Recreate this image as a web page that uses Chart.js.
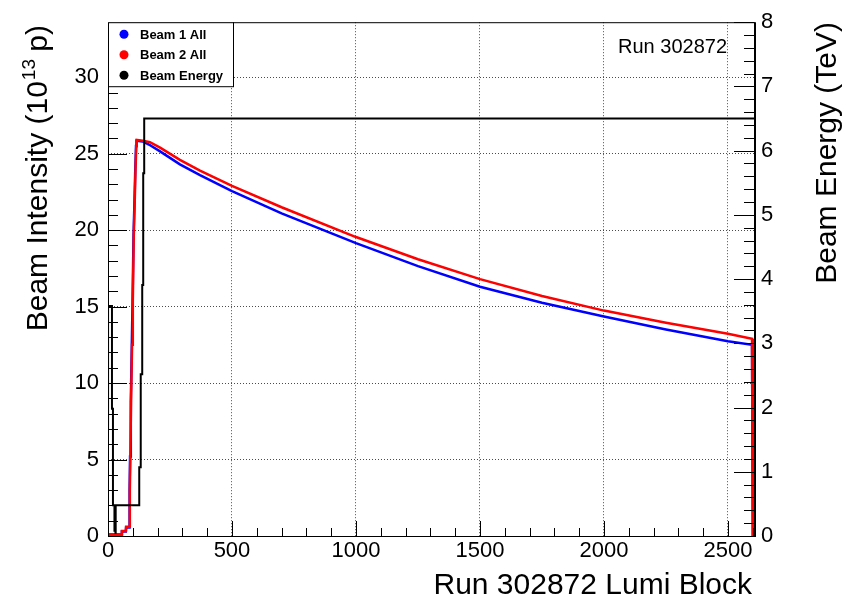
<!DOCTYPE html>
<html>
<head>
<meta charset="utf-8">
<script src="https://cdn.jsdelivr.net/npm/chart.js"></script>
<style>
  body { margin: 0; background: #fff; }
  canvas { display: block; }
</style>
</head>
<body>
<canvas id="beamChart" width="852" height="599"></canvas>
<script>
// lumi block / value pairs for each beam (10^13 protons)
const beam1LB  = [0, 55, 56, 72, 73, 85, 87, 89, 92, 96, 99, 103, 107, 110, 113, 115, 140, 165, 210, 290, 371, 500, 700, 1000, 1250, 1500, 1750, 2000, 2250, 2500, 2597, 2600, 2600.5];
const beam1Val = [0.1, 0.1, 0.3, 0.3, 0.55, 0.55, 3.0, 5.2, 8.8, 12.5, 15.3, 19.7, 22.0, 24.0, 25.5, 25.85, 25.8, 25.6, 25.15, 24.3, 23.6, 22.55, 21.1, 19.15, 17.65, 16.3, 15.25, 14.35, 13.5, 12.73, 12.5, 12.5, 0];

const beam2LB  = [0, 55, 56, 72, 73, 86, 88, 90, 93, 97, 100, 104, 108, 111, 114, 116, 140, 169, 210, 290, 371, 500, 700, 1000, 1250, 1500, 1750, 2000, 2250, 2500, 2597, 2600, 2600.5];
const beam2Val = [0.1, 0.1, 0.32, 0.32, 0.6, 0.6, 3.0, 5.2, 8.8, 12.5, 15.3, 19.7, 22.0, 24.0, 25.5, 25.9, 25.85, 25.76, 25.4, 24.6, 23.9, 22.9, 21.5, 19.55, 18.1, 16.8, 15.7, 14.74, 13.95, 13.23, 12.9, 12.88, 0];

// beam energy steps (TeV), each value held until the next lumi block
const energyLB  = [0, 0.3, 16, 20, 26, 27, 28, 29, 30, 31, 126, 132, 138, 142, 146, 2605];
const energyVal = [1.67, 3.58, 1.98, 0.48, 0.08, 0.48, 0.1, 0.48, 0.05, 0.48, 1.07, 2.52, 3.91, 5.65, 6.5, 6.5];

// axis tick values
const xTicks  = [0, 500, 1000, 1500, 2000, 2500];
const yTicks  = [0, 5, 10, 15, 20, 25, 30];
const y2Ticks = [0, 1, 2, 3, 4, 5, 6, 7, 8];

const runNumber = '302872';
const xTitle = 'Run ' + runNumber + ' Lumi Block';
const yTitle = ['Beam Intensity (10', '13', ' p)'];
const y2Title = 'Beam Energy (TeV)';

const FONT = '"Liberation Sans", Arial, Helvetica, sans-serif';

function pairs(xs, ys) {
  return xs.map((x, i) => ({ x, y: ys[i] }));
}

function fixedTicks(values) {
  return s => { s.ticks = values.map(v => ({ value: v })); };
}

function gridColor(c) {
  return c.tick && c.tick.value === 0 ? 'rgba(0,0,0,0)' : 'rgba(0,0,0,0.7)';
}

// ROOT-like frame: inward ticks, titles, legend box
const rootStyle = {
  id: 'rootStyle',
  afterDraw(chart) {
    const { ctx, chartArea: a, scales } = chart;
    ctx.save();
    ctx.strokeStyle = '#000';
    ctx.lineWidth = 1;
    ctx.strokeRect(a.left + 0.5, a.top + 0.5, a.right - a.left, a.bottom - a.top);

    function tickSet(scale, step, minorStep, major, minor, draw) {
      for (let v = scale.min; v <= scale.max + 1e-9; v += minorStep) {
        const isMajor = Math.abs(v / step - Math.round(v / step)) < 1e-6;
        draw(Math.round(scale.getPixelForValue(v)) + 0.5, isMajor ? major : minor);
      }
    }
    ctx.beginPath();
    tickSet(scales.x, 500, 100, 15, 8, (p, len) => {
      ctx.moveTo(p, a.bottom); ctx.lineTo(p, a.bottom - len);
    });
    tickSet(scales.y, 5, 1, 19, 10, (p, len) => {
      ctx.moveTo(a.left, p); ctx.lineTo(a.left + len, p);
    });
    tickSet(scales.y2, 1, 0.2, 20, 10, (p, len) => {
      ctx.moveTo(a.right, p); ctx.lineTo(a.right - len, p);
    });
    ctx.stroke();

    // right axis line
    ctx.lineWidth = 2;
    ctx.beginPath();
    ctx.moveTo(a.right + 1, a.top);
    ctx.lineTo(a.right + 1, a.bottom + 1);
    ctx.stroke();

    // legend box
    const lx = a.left, ly = a.top, lw = 125, lh = 64;
    ctx.fillStyle = '#fff';
    ctx.fillRect(lx, ly, lw, lh);
    ctx.lineWidth = 1;
    ctx.strokeRect(lx + 0.5, ly + 0.5, lw, lh);
    ctx.font = 'bold 13px ' + FONT;
    ctx.textAlign = 'left';
    ctx.textBaseline = 'middle';
    chart.data.datasets.forEach((ds, i) => {
      const cy = ly + 12 + i * 20.5;
      ctx.fillStyle = ds.borderColor;
      ctx.beginPath();
      ctx.arc(lx + 16, cy, 4.5, 0, Math.PI * 2);
      ctx.fill();
      ctx.fillStyle = '#000';
      ctx.fillText(ds.label, lx + 32, cy + 1);
    });

    // run label
    ctx.font = '20px ' + FONT;
    ctx.textAlign = 'right';
    ctx.textBaseline = 'alphabetic';
    ctx.fillText('Run ' + runNumber, 727, 53);

    // x title
    ctx.font = '30px ' + FONT;
    ctx.fillText(xTitle, a.right - 2, 594);

    // left title with superscript
    ctx.save();
    ctx.translate(47, 25);
    ctx.rotate(-Math.PI / 2);
    ctx.textAlign = 'left';
    const big = '30px ' + FONT, small = '19px ' + FONT;
    ctx.font = big;
    const w0 = ctx.measureText(yTitle[0]).width;
    const w2 = ctx.measureText(yTitle[2]).width;
    ctx.font = small;
    const w1 = ctx.measureText(yTitle[1]).width;
    const x0 = -(w0 + w1 + w2);
    ctx.font = big;
    ctx.fillText(yTitle[0], x0, 0);
    ctx.font = small;
    ctx.fillText(yTitle[1], x0 + w0 + 1, -12);
    ctx.font = big;
    ctx.fillText(yTitle[2], x0 + w0 + w1, 0);
    ctx.restore();

    // right title
    ctx.save();
    ctx.translate(836, 22);
    ctx.rotate(-Math.PI / 2);
    ctx.font = '30px ' + FONT;
    ctx.textAlign = 'right';
    ctx.fillText(y2Title, 0, 0);
    ctx.restore();

    ctx.restore();
  }
};

const tickFont = { family: FONT, size: 22 };
const plain = v => String(v);

new Chart(document.getElementById('beamChart'), {
  type: 'line',
  data: {
    datasets: [{
      label: 'Beam 1 All',
      data: pairs(beam1LB, beam1Val),
      borderColor: '#0000ff',
      borderWidth: 2.5,
      yAxisID: 'y',
      order: 2
    }, {
      label: 'Beam 2 All',
      data: pairs(beam2LB, beam2Val),
      borderColor: '#ff0000',
      borderWidth: 2.5,
      yAxisID: 'y',
      order: 1
    }, {
      label: 'Beam Energy',
      data: pairs(energyLB, energyVal),
      borderColor: '#000000',
      borderWidth: 2,
      stepped: 'before',
      yAxisID: 'y2',
      order: 0
    }]
  },
  options: {
    responsive: false,
    animation: false,
    devicePixelRatio: 1,
    layout: { padding: { top: 18, left: 0, right: 0, bottom: 0 } },
    elements: { point: { radius: 0 }, line: { tension: 0, fill: false } },
    plugins: { legend: { display: false }, tooltip: { enabled: false } },
    scales: {
      x: {
        type: 'linear',
        min: 0,
        max: 2605,
        afterFit: s => { s.height = 63; },
        afterBuildTicks: fixedTicks(xTicks),
        ticks: { autoSkip: false, maxRotation: 0, font: tickFont, color: '#000', padding: 2, callback: plain },
        grid: { drawTicks: false, color: gridColor, lineWidth: 1 },
        border: { display: false, dash: [1, 2] }
      },
      y: {
        position: 'left',
        min: 0,
        max: 33.6,
        afterFit: s => { s.width = 108; },
        afterBuildTicks: fixedTicks(yTicks),
        ticks: { font: tickFont, color: '#000', padding: 9, callback: plain },
        grid: { drawTicks: false, color: gridColor, lineWidth: 1 },
        border: { display: false, dash: [1, 2] }
      },
      y2: {
        position: 'right',
        min: 0,
        max: 8,
        afterFit: s => { s.width = 98; },
        afterBuildTicks: fixedTicks(y2Ticks),
        ticks: { font: tickFont, color: '#000', padding: 7, callback: plain },
        grid: { display: false, drawTicks: false },
        border: { display: false }
      }
    }
  },
  plugins: [rootStyle]
});
</script>
</body>
</html>
